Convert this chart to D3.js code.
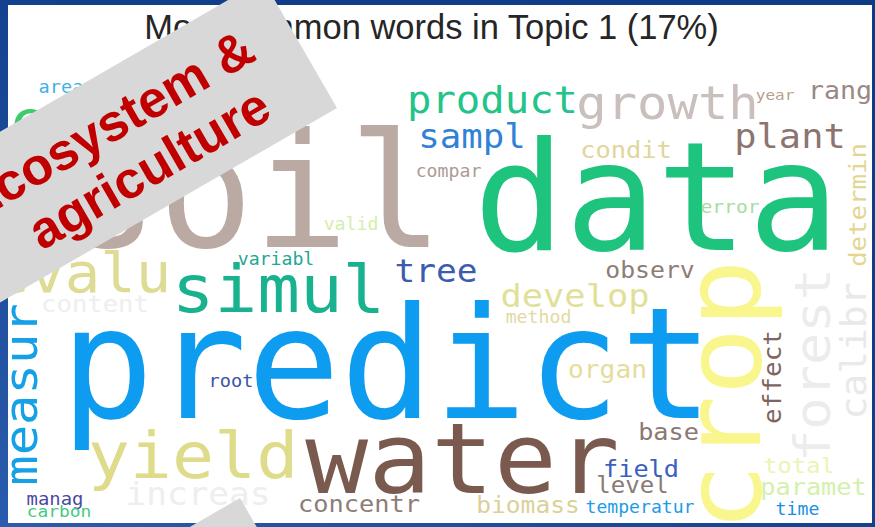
<!DOCTYPE html>
<html>
<head>
<meta charset="utf-8">
<script src="https://cdn.jsdelivr.net/npm/d3@7"></script>
<style>
  body { margin: 0; background: #123f8c; }
  svg { display: block; }
</style>
</head>
<body>
<div id="canvas"></div>
<script>
// words of topic 1 and their weight (font size in cloud units)
const words = ["predict", "data", "soil", "water", "crop", "yield", "simul", "growth", "product", "sampl",
  "plant", "condit", "compar", "year", "rang", "determin", "error", "valid", "variabl", "tree",
  "observ", "develop", "method", "content", "evalu", "measur", "root", "increas", "manag", "carbon",
  "concentr", "biomass", "temperatur", "level", "field", "base", "organ", "effect", "forest", "calibr",
  "total", "paramet", "time", "area", "estim"];
const weights = [155, 152, 158, 104.5, 113, 70, 71, 50.5, 40.6, 35.7,
  37, 25.4, 18.2, 16, 26.6, 25.7, 19.6, 18.2, 18.2, 34.5,
  24.8, 35.4, 18.2, 25.6, 59, 50.5, 18.6, 34.4, 18.9, 17.9,
  25.3, 24.6, 18.1, 24.1, 25.2, 25.2, 26.2, 26, 53.7, 38,
  23.8, 25.3, 18.2, 18.6, 62];

// where the cloud layout put each word (cloud units), 1 = turned upright
const layoutX = [379, 648.5, 245.5, 454.5, 752, 185, 270.5, 659.5, 484.5, 464,
  782, 618, 440.5, 767, 832, 858, 722, 343, 268, 428,
  642, 567, 530.5, 87, 74.5, 29, 223, 190, 47, 51,
  351, 520, 632, 624.5, 633, 660.5, 599.5, 773, 822, 858,
  791, 805.5, 789.5, 53, 96];
const layoutY = [413, 245, 242, 488, 390.5, 473, 307, 114, 108, 143,
  143, 153, 172, 95, 94, 200, 208, 225, 260, 277,
  273, 302, 318, 307, 287, 389.5, 382, 500, 500, 512,
  507, 508, 508, 488, 472, 435, 373, 372, 360, 346,
  468, 490, 510, 88, 136];
const turned = [0, 0, 0, 0, 1, 0, 0, 0, 0, 0,
  0, 0, 0, 0, 0, 1, 0, 0, 0, 0,
  0, 0, 0, 0, 0, 1, 0, 0, 0, 0,
  0, 0, 0, 0, 0, 0, 0, 1, 1, 1,
  0, 0, 0, 0, 0];
const wordColors = ["#0e9cf0", "#1ec47d", "#bba9a3", "#7a5a4e", "#f8f68c", "#dedc8a", "#19b28f", "#c9bfbc", "#23c48a", "#2f82d6",
  "#8c7570", "#e0d69c", "#ad9a95", "#b9a08c", "#9a8883", "#e2d690", "#a8dca0", "#d4eeaa", "#22a890", "#3c5cb0",
  "#8e7c77", "#e2df9a", "#e2d9a2", "#eeeeee", "#dedb94", "#16a0e6", "#3b54a6", "#eeeeee", "#4b4a9e", "#45cb82",
  "#8e7c77", "#dad199", "#1d9ce8", "#8b7b76", "#3a5fc0", "#8b7873", "#e4dd9c", "#7d655e", "#ececec", "#e9e9e9",
  "#eef3b5", "#d3f0ac", "#1b8fe2", "#3fb2e6", "#3ecb6e"];

const title = "Most common words in Topic 1 (17%)";
const bannerLines = ["Ecosystem &", "agriculture"];

const width = 875;
const height = 527;
const panel = { left: 8, top: 5, right: 872, bottom: 523 };

const svg = d3.select("#canvas").append("svg")
  .attr("width", width)
  .attr("height", height);

const defs = svg.append("defs");
const grad = defs.append("linearGradient")
  .attr("id", "bg")
  .attr("x1", 0).attr("y1", 1).attr("x2", 1).attr("y2", 0);
grad.append("stop").attr("offset", "0%").attr("stop-color", "#2a5cad");
grad.append("stop").attr("offset", "55%").attr("stop-color", "#123f8c");
grad.append("stop").attr("offset", "100%").attr("stop-color", "#0e3a86");

defs.append("clipPath").attr("id", "panelClip")
  .append("rect")
  .attr("x", panel.left).attr("y", panel.top)
  .attr("width", panel.right - panel.left)
  .attr("height", panel.bottom - panel.top);

svg.append("rect")
  .attr("width", width)
  .attr("height", height)
  .attr("fill", "url(#bg)");

svg.append("rect")
  .attr("x", panel.left).attr("y", panel.top)
  .attr("width", panel.right - panel.left)
  .attr("height", panel.bottom - panel.top)
  .attr("fill", "#ffffff");

const x = d3.scaleLinear().domain([0, 864]).range([panel.left, panel.right]);
const y = d3.scaleLinear().domain([0, 518]).range([panel.top, panel.bottom]);
const size = d3.scaleLinear().domain([0, 864]).range([0, panel.right - panel.left]);
// the cloud image was widened a little, less so for the biggest words
const stretch = d3.scaleLinear().domain([100, 150]).range([1.08, 1.0]).clamp(true);

const cloud = words.map((w, i) => ({
  word: w,
  weight: weights[i],
  x: layoutX[i],
  y: layoutY[i],
  rot: turned[i] ? -90 : 0,
  color: wordColors[i]
}));

const g = svg.append("g").attr("clip-path", "url(#panelClip)");

g.selectAll("text.word")
  .data(cloud)
  .join("text")
  .attr("class", "word")
  .attr("transform", d => `translate(${x(d.x)},${y(d.y)}) rotate(${d.rot}) scale(${stretch(d.weight)},1)`)
  .attr("text-anchor", "middle")
  .style("font-family", "'DejaVu Sans Mono', monospace")
  .style("font-size", d => (size(d.weight) / stretch(d.weight)) + "px")
  .attr("fill", d => d.color)
  .text(d => d.word);

svg.append("text")
  .attr("x", 431.5)
  .attr("y", 39)
  .attr("text-anchor", "middle")
  .style("font-family", "'Liberation Sans', Arial, sans-serif")
  .style("font-size", "34.5px")
  .attr("fill", "#262626")
  .text(title);

// grey banners laid over the slide
const banner = svg.append("g").attr("transform", "translate(337,108) rotate(-30)");
banner.append("rect")
  .attr("x", -700).attr("y", -148)
  .attr("width", 700).attr("height", 148)
  .attr("fill", "#d8d8d8");
banner.selectAll("text")
  .data(bannerLines)
  .join("text")
  .attr("x", (d, i) => i === 0 ? -207 : -193)
  .attr("y", (d, i) => i === 0 ? -82 : -24)
  .attr("text-anchor", "middle")
  .style("font-family", "'Liberation Sans', Arial, sans-serif")
  .style("font-weight", "bold")
  .style("font-size", "52px")
  .attr("fill", "#c00000")
  .text(d => d);

svg.append("g").attr("transform", "translate(240,498) rotate(-30)")
  .append("rect")
  .attr("x", -700).attr("y", 0)
  .attr("width", 700).attr("height", 148)
  .attr("fill", "#d8d8d8");
</script>
</body>
</html>
